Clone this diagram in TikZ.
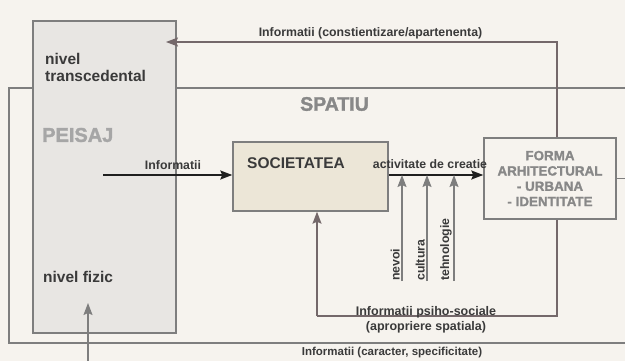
\documentclass[tikz,border=0pt]{standalone}
\usepackage{fontspec}
\setmainfont{Liberation Sans}
\newfontfamily\heavyfont[FakeBold=1.6]{Liberation Sans Bold}
\usetikzlibrary{arrows.meta,calc}
\definecolor{bg}{HTML}{F6F3EE}
\definecolor{peisfill}{HTML}{E8E6E3}
\definecolor{socfill}{HTML}{ECE6D7}
\definecolor{boxline}{HTML}{7E7E7E}
\definecolor{loopcol}{HTML}{74686A}
\definecolor{txt}{HTML}{3A3A3A}
\definecolor{ghost}{HTML}{A6A6A6}
\definecolor{midgray}{HTML}{888888}
\tikzset{
  boxshape/.style={draw=boxline, line width=1.4pt, rectangle, inner sep=0pt},
  lbl/.style={text=txt, font=\bfseries\fontsize{12.3}{14}\selectfont, inner sep=0pt},
  tipA/.style={-{Stealth[length=12pt,width=9pt,inset=2pt]}},
  blackarrow/.style={draw=black!88, line width=1.8pt, tipA},
  grayarrow/.style={draw=boxline, line width=1.5pt, tipA},
  loopline/.style={draw=loopcol, line width=1.4pt},
  looparrow/.style={loopline, tipA}
}
\begin{document}
\begin{tikzpicture}[x=1pt,y=-1pt]
\useasboundingbox (0,0) rectangle (625,361);
\clip (0,0) rectangle (625,361);
\fill[bg] (0,0) rectangle (625,361);

% SPATIU frame
\draw[boxshape] (9,88) rectangle (640,343);
\node[font=\heavyfont\fontsize{19.5}{22}\selectfont, text=midgray, anchor=west, inner sep=0pt] (spatiu) at (300,104) {SPATIU};

% PEISAJ box
\node[boxshape, fill=peisfill, minimum width=143pt, minimum height=312pt] (peisaj) at (104.5,177) {};
\node[font=\heavyfont\fontsize{20}{22}\selectfont, text=ghost, anchor=west, inner sep=0pt] (peisajtxt) at (42,135) {PEISAJ};
\node[font=\bfseries\fontsize{15.5}{17}\selectfont, text=txt, anchor=west, align=left, inner sep=0pt] (transc) at (45,67.5) {nivel\\transcedental};
\node[font=\bfseries\fontsize{15.5}{17}\selectfont, text=txt, anchor=west, inner sep=0pt] (fizic) at (43,277) {nivel fizic};

% SOCIETATEA
\node[boxshape, fill=socfill, minimum width=155pt, minimum height=69pt] (soc) at (310.5,176.5) {};
\node[font=\bfseries\fontsize{15.5}{17}\selectfont, text=txt, anchor=west, inner sep=0pt] (soctxt) at (247,163) {SOCIETATEA};

% FORMA
\node[boxshape, fill=bg, minimum width=132pt, minimum height=81pt, align=center,
      font=\heavyfont\fontsize{13.4}{15.3}\selectfont, text=midgray] (forma) at (550,178.5)
      {FORMA\\ARHITECTURAL\\- URBANA\\- IDENTITATE};
\coordinate (rightedge) at (625,178.5);
\draw[boxshape] (forma.east) -- (rightedge);

% top connector
\coordinate (toptip) at (166,42);
\draw[looparrow] ([xshift=7pt]forma.north) |- (toptip);
\node[lbl] (toplbl) at (370.5,33) {Informatii (constientizare/apartenenta)};

% Informatii arrow
\coordinate (infstart) at (103,175);
\draw[blackarrow] (infstart) -- (infstart -| soc.west);
\node[lbl] (inflbl) at (173,165) {Informatii};

% activitate de creatie
\draw[blackarrow] (soc.east |- infstart) -- (infstart -| forma.west);
\node[lbl] (actlbl) at (430,164) {activitate de creatie};

% vertical inputs
\coordinate (nevS) at (402,281);
\coordinate (culS) at (427,281);
\coordinate (tehS) at (454,281);
\draw[grayarrow] (nevS) -- (nevS |- infstart);
\draw[grayarrow] (culS) -- (culS |- infstart);
\draw[grayarrow] (tehS) -- (tehS |- infstart);
\node[lbl, rotate=90, anchor=south west] (nevlbl) at (400,281) {nevoi};
\node[lbl, rotate=90, anchor=south west] (cullbl) at (425,281) {cultura};
\node[lbl, rotate=90, anchor=south west] (tehlbl) at (452,281) {tehnologie};

% bottom loop
\coordinate (psy) at (317,316);
\draw[loopline] ([xshift=7pt]forma.south) |- (psy);
\draw[looparrow] (psy) -- (psy |- soc.south);
\node[lbl, align=center, font=\bfseries\fontsize{12.5}{14.5}\selectfont] (psylbl) at (426,320) {Informatii psiho-sociale\\(apropriere spatiala)};

% bottom input
\coordinate (botS) at (88,361);
\coordinate (botT) at (88,303);
\draw[grayarrow] (botS) -- (botT);
\node[lbl, font=\bfseries\fontsize{11.5}{13}\selectfont] (botlbl) at (392,353) {Informatii (caracter, specificitate)};
\end{tikzpicture}
\end{document}
